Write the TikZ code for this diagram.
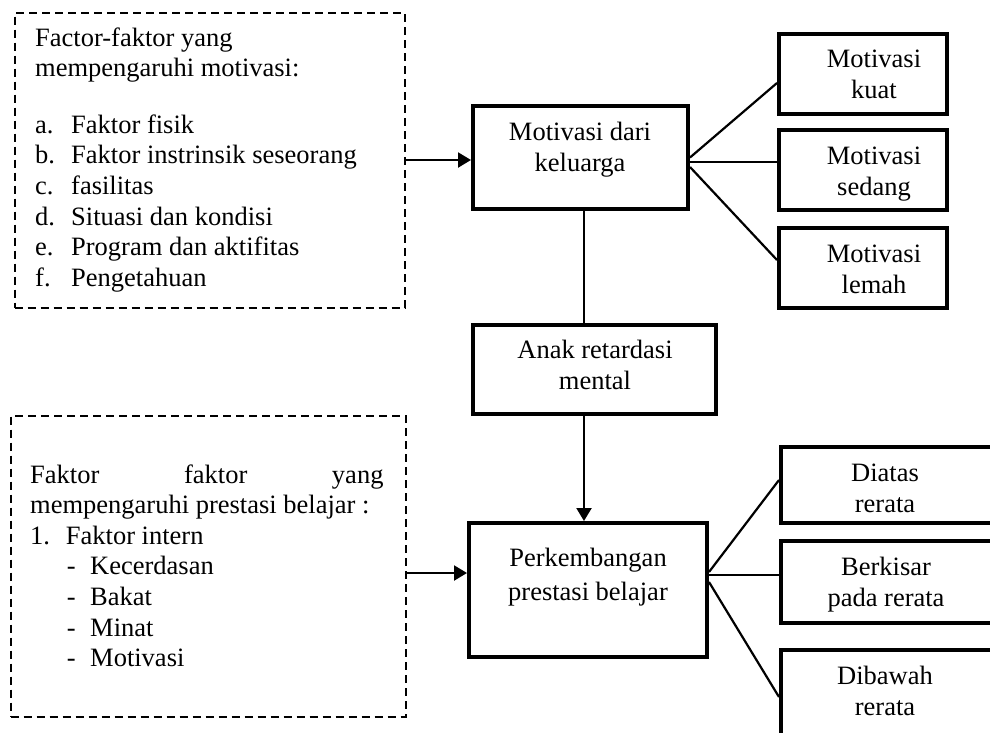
\documentclass[tikz,border=0pt]{standalone}
\usepackage{fontspec}
\setmainfont{Liberation Serif}
\usetikzlibrary{arrows.meta}
\begin{document}
\begin{tikzpicture}[x=1pt,y=-1pt,
	box/.style={draw,line width=4pt,inner sep=0pt},
	dbox/.style={draw,line width=2pt,dash pattern=on 8pt off 5pt,inner sep=0pt},
	txt/.style={inner sep=0pt,font=\fontsize{26.5}{30.6}\selectfont,align=center,anchor=base},
	ln/.style={line width=2.2pt},
	arr/.style={line width=2.2pt,-{Triangle[length=13pt,width=15pt]}}]
	\clip (0,0) rectangle (990,732);
	% kotak faktor (anchor base = baris terakhir)
	\node[dbox,minimum width=390pt,minimum height=295pt] (fakA) at (209.5,160) {};
	\node[txt,anchor=base west,align=left] (fakAT) at (35,286.3) {Factor-faktor yang\\mempengaruhi motivasi:\\[26pt]
		\makebox[36pt][l]{a.}Faktor fisik\\
		\makebox[36pt][l]{b.}Faktor instrinsik seseorang\\
		\makebox[36pt][l]{c.}fasilitas\\
		\makebox[36pt][l]{d.}Situasi dan kondisi\\
		\makebox[36pt][l]{e.}Program dan aktifitas\\
		\makebox[36pt][l]{f.}Pengetahuan};
	\node[dbox,minimum width=395pt,minimum height=301pt] (fakB) at (208,566) {};
	\node[txt,anchor=base west,align=left] (fakBT) at (30,666.7) {\hbox to 353.3pt{Faktor\hfill faktor\hfill yang}\\mempengaruhi prestasi belajar :\\
		\makebox[35.7pt][l]{1.}Faktor intern\\
		\hspace*{36.7pt}\makebox[23.3pt][l]{-}Kecerdasan\\
		\hspace*{36.7pt}\makebox[23.3pt][l]{-}Bakat\\
		\hspace*{36.7pt}\makebox[23.3pt][l]{-}Minat\\
		\hspace*{36.7pt}\makebox[23.3pt][l]{-}Motivasi};
	% kotak tengah
	\node[box,minimum width=215pt,minimum height=103pt] (kel) at (580.5,157.5) {};
	\node[txt] (kelT) at (580,171) {Motivasi dari\\keluarga};
	\node[box,minimum width=243pt,minimum height=89pt] (anak) at (594.5,369.5) {};
	\node[txt] (anakT) at (595,389.5) {Anak retardasi\\mental};
	\node[box,minimum width=238pt,minimum height=134pt] (perk) at (588,590) {};
	\node[txt] (perkT) at (588,600) {Perkembangan\\[3pt]prestasi belajar};
	% kotak kanan atas
	\node[box,minimum width=168pt,minimum height=80pt] (kuat) at (863,74) {};
	\node[txt] (kuatT) at (874,98.5) {Motivasi\\kuat};
	\node[box,minimum width=168pt,minimum height=80pt] (sedang) at (863,170) {};
	\node[txt] (sedangT) at (874,195.5) {Motivasi\\sedang};
	\node[box,minimum width=168pt,minimum height=80pt] (lemah) at (863,268) {};
	\node[txt] (lemahT) at (874,293.5) {Motivasi\\lemah};
	% kotak kanan bawah
	\node[box,minimum width=229pt,minimum height=76pt] (atas) at (895.5,485) {};
	\node[txt] (atasT) at (885,512.5) {Diatas\\rerata};
	\node[box,minimum width=229pt,minimum height=82pt] (kisar) at (895.5,582) {};
	\node[txt] (kisarT) at (886,606) {Berkisar\\pada rerata};
	\node[box,minimum width=229pt,minimum height=90pt] (bawah) at (895.5,695) {};
	\node[txt] (bawahT) at (885,715.5) {Dibawah\\rerata};
	% panah dan garis
	\draw[arr] (fakA.east) -- (fakA.east -| kel.west);
	\draw[arr] ([yshift=-7pt]fakB.east) -- ([yshift=17pt]perk.west);
	\draw[ln] ([xshift=3.5pt]kel.south) -- ([xshift=-10.5pt]anak.north);
	\draw[arr] ([xshift=-10.5pt]anak.south) -- ([xshift=-4pt]perk.north);
	\draw[ln] (kel.east) -- ([yshift=-9pt]kuat.west);
	\draw[ln] ([yshift=-4.5pt]kel.east) -- ([yshift=8pt]sedang.west);
	\draw[ln] ([yshift=-9.5pt]kel.east) -- ([yshift=8pt]lemah.west);
	\draw[ln] ([yshift=18pt]perk.east) -- ([yshift=5pt]atas.west);
	\draw[ln] ([yshift=15pt]perk.east) -- ([yshift=7pt]kisar.west);
	\draw[ln] ([yshift=8pt]perk.east) -- ([yshift=-2pt]bawah.west);
\end{tikzpicture}
\end{document}
